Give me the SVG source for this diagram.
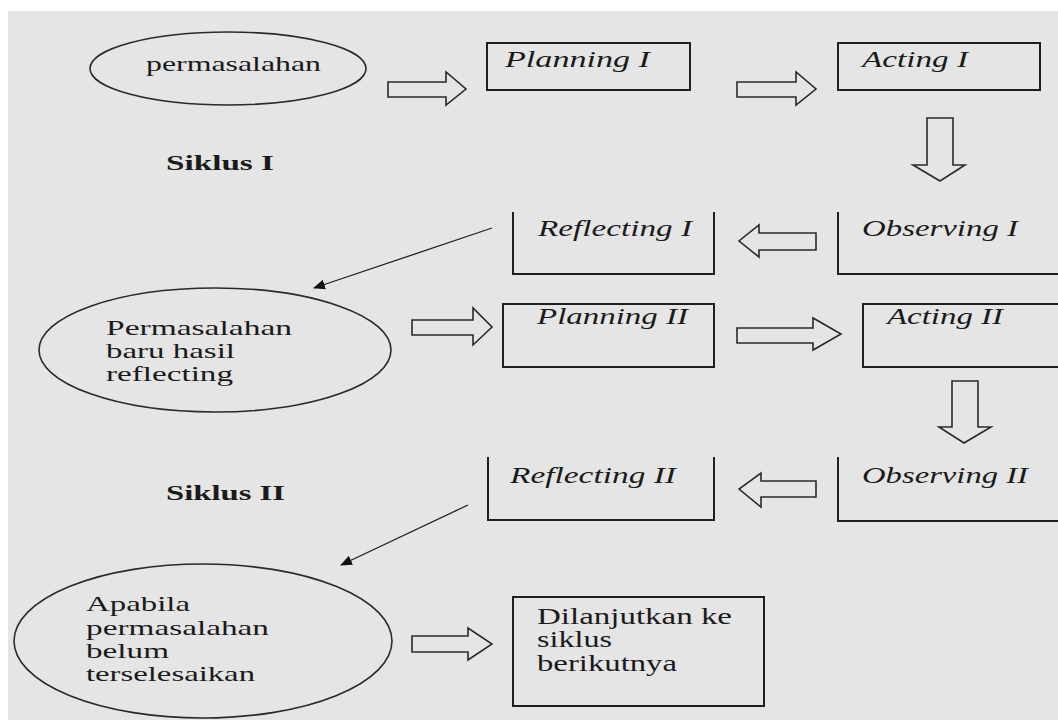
<svg xmlns="http://www.w3.org/2000/svg" width="1058" height="720" viewBox="0 0 1058 720">
<defs>
<style>
.bg{fill:#e5e5e5}
.ell{fill:none;stroke:#2a2a2a;stroke-width:1.6}
.box{fill:none;stroke:#1e1e1e;stroke-width:2}
.blk{fill:none;stroke:#2a2a2a;stroke-width:1.6;stroke-linejoin:miter}
.diag{stroke:#222;stroke-width:1.3;fill:none}
text{font-family:"Liberation Serif","Times New Roman",serif;fill:#1a1a1a}
.it{font-style:italic;font-size:24px}
.rg{font-size:22px}
.bd{font-weight:bold;font-size:21px}
.dl{font-size:23px}
</style>
<marker id="ah" markerUnits="userSpaceOnUse" markerWidth="12" markerHeight="10" refX="11" refY="5" orient="auto">
<path d="M0,0 L12,5 L0,10 Z" fill="#111"/>
</marker>
</defs>
<rect x="0" y="0" width="1058" height="720" fill="#ffffff"/>
<rect class="bg" x="8" y="11" width="1050" height="709"/>

<g id="connectors">
<path class="blk" d="M388 82 H446 V72 L466 89 L446 105 V97 H388 Z"/>
<path class="blk" d="M737 82 H796 V72 L816 89 L796 105 V97 H737 Z"/>
<path class="blk" d="M927 118 V165 H913 L940 181 L965 165 H953 V118 Z"/>
<path class="blk" d="M816 233 H759 V225 L739 241 L759 257 V250 H816 Z"/>
<line class="diag" x1="492" y1="228" x2="314" y2="288" marker-end="url(#ah)"/>
<path class="blk" d="M412 320 H473 V308 L492 327 L473 345 V335 H412 Z"/>
<path class="blk" d="M737 328 H813 V318 L841 334 L813 350 V343 H737 Z"/>
<path class="blk" d="M952 381 V427 H939 L964 443 L991 427 H978 V381 Z"/>
<path class="blk" d="M816 481 H761 V473 L739 489 L761 507 V497 H816 Z"/>
<line class="diag" x1="468" y1="505" x2="341" y2="565" marker-end="url(#ah)"/>
<path class="blk" d="M412 636 H468 V628 L492 644 L468 660 V652 H412 Z"/>
</g>

<g id="node-permasalahan">
<ellipse class="ell" cx="228" cy="68.5" rx="138" ry="36.5"/>
<text class="rg" x="146" y="71" textLength="175" lengthAdjust="spacingAndGlyphs">permasalahan</text>
</g>
<g id="node-planning1">
<rect class="box" x="487" y="43" width="203" height="47"/>
<text class="it" x="505" y="67" textLength="145" lengthAdjust="spacingAndGlyphs">Planning I</text>
</g>
<g id="node-acting1">
<rect class="box" x="838" y="43" width="202" height="47"/>
<text class="it" x="862" y="67" textLength="106" lengthAdjust="spacingAndGlyphs">Acting I</text>
</g>
<g id="label-siklus1">
<text class="bd" x="166" y="170" textLength="108" lengthAdjust="spacingAndGlyphs">Siklus I</text>
</g>
<g id="node-reflecting1">
<path class="box" d="M513 212 V274 H714 V212"/>
<text class="it" x="538" y="236" textLength="154" lengthAdjust="spacingAndGlyphs">Reflecting I</text>
</g>
<g id="node-observing1">
<path class="box" d="M838 212 V274 H1062"/>
<text class="it" x="862" y="236" textLength="156" lengthAdjust="spacingAndGlyphs">Observing I</text>
</g>
<g id="node-permasalahan-baru">
<ellipse class="ell" cx="215" cy="350" rx="176" ry="62"/>
<text class="rg" x="106" y="335" textLength="186" lengthAdjust="spacingAndGlyphs">Permasalahan</text>
<text class="rg" x="106" y="358" textLength="129" lengthAdjust="spacingAndGlyphs">baru hasil</text>
<text class="rg" x="106" y="381" textLength="127" lengthAdjust="spacingAndGlyphs">reflecting</text>
</g>
<g id="node-planning2">
<rect class="box" x="503" y="304" width="211" height="63"/>
<text class="it" x="537" y="324" textLength="151" lengthAdjust="spacingAndGlyphs">Planning II</text>
</g>
<g id="node-acting2">
<path class="box" d="M1062 304 H863 V367 H1062"/>
<text class="it" x="887" y="324" textLength="116" lengthAdjust="spacingAndGlyphs">Acting II</text>
</g>
<g id="label-siklus2">
<text class="bd" x="166" y="500" textLength="119" lengthAdjust="spacingAndGlyphs">Siklus II</text>
</g>
<g id="node-reflecting2">
<path class="box" d="M488 457 V520 H714 V457"/>
<text class="it" x="510" y="483" textLength="166" lengthAdjust="spacingAndGlyphs">Reflecting II</text>
</g>
<g id="node-observing2">
<path class="box" d="M838 457 V521 H1062"/>
<text class="it" x="862" y="483" textLength="166" lengthAdjust="spacingAndGlyphs">Observing II</text>
</g>
<g id="node-apabila">
<ellipse class="ell" cx="203" cy="641" rx="189" ry="77"/>
<text class="rg" x="86" y="611" textLength="104" lengthAdjust="spacingAndGlyphs">Apabila</text>
<text class="rg" x="86" y="635" textLength="183" lengthAdjust="spacingAndGlyphs">permasalahan</text>
<text class="rg" x="86" y="658" textLength="83" lengthAdjust="spacingAndGlyphs">belum</text>
<text class="rg" x="86" y="681" textLength="169" lengthAdjust="spacingAndGlyphs">terselesaikan</text>
</g>
<g id="node-dilanjutkan">
<rect class="box" x="513" y="597" width="251" height="109"/>
<text class="dl" x="537" y="624" textLength="195" lengthAdjust="spacingAndGlyphs">Dilanjutkan ke</text>
<text class="dl" x="537" y="647" textLength="75" lengthAdjust="spacingAndGlyphs">siklus</text>
<text class="dl" x="537" y="671" textLength="140" lengthAdjust="spacingAndGlyphs">berikutnya</text>
</g>
</svg>
